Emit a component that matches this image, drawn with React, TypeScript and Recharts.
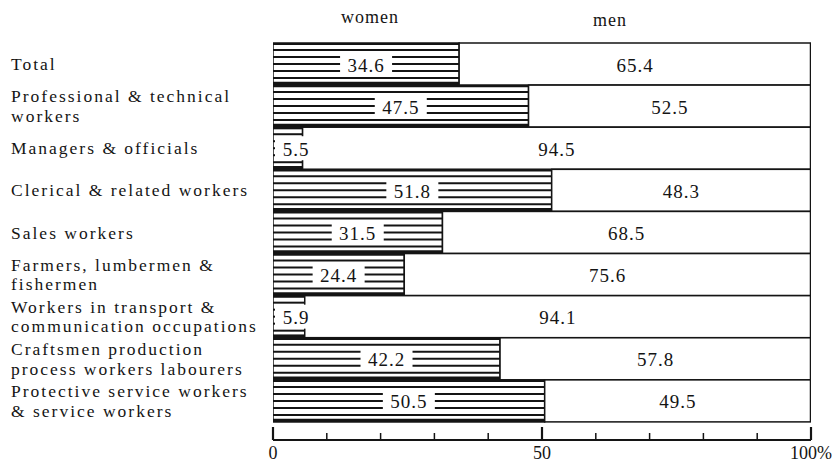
import { BarChart, Bar, XAxis, YAxis, LabelList } from 'recharts';

const categories = [
  'Total',
  'Professional & technical\nworkers',
  'Managers & officials',
  'Clerical & related workers',
  'Sales workers',
  'Farmers, lumbermen &\nfishermen',
  'Workers in transport &\ncommunication occupations',
  'Craftsmen production\nprocess workers labourers',
  'Protective service workers\n& service workers',
];
const women = [34.6, 47.5, 5.5, 51.8, 31.5, 24.4, 5.9, 42.2, 50.5];
const men = [65.4, 52.5, 94.5, 48.3, 68.5, 75.6, 94.1, 57.8, 49.5];
const xTicks = [0, 10, 20, 30, 40, 50, 60, 70, 80, 90, 100];
const xTickLabels: Record<number, string> = { 0: '0', 50: '50', 100: '100%' };

const data = categories.map((name, i) => ({ name, women: women[i], men: men[i] }));

const FONT = "'Liberation Serif', 'DejaVu Serif', 'Times New Roman', serif";
const INK = '#141414';

const WomenShape = (props: any) => {
  const { x, y, width, height } = props;
  if (!width || width <= 0) return null;
  const lines = [1, 2, 3, 4, 5].map(k => y + (height * k) / 6);
  return (
    <g>
      <rect x={x} y={y} width={width} height={height} fill="#fff" />
      {lines.map((ly, i) => (
        <line key={i} x1={x} x2={x + width} y1={ly} y2={ly} stroke={INK} strokeWidth={2} />
      ))}
      <rect x={x} y={y} width={width} height={height} fill="none" stroke={INK} strokeWidth={1.5} />
      <line x1={x} x2={x + width} y1={y + 1} y2={y + 1} stroke={INK} strokeWidth={2.2} />
      <line x1={x} x2={x + width} y1={y + height - 1.5} y2={y + height - 1.5} stroke={INK} strokeWidth={3.5} />
    </g>
  );
};

const MenShape = (props: any) => {
  const { x, y, width, height } = props;
  if (!width || width <= 0) return null;
  return (
    <g>
      <rect x={x} y={y} width={width} height={height} fill="#fff" stroke={INK} strokeWidth={1.5} />
      <line x1={x + width} x2={x + width} y1={y} y2={y + height} stroke={INK} strokeWidth={2.5} />
    </g>
  );
};

const WomenLabel = (props: any) => {
  const { x, y, width, height, value } = props;
  const text = String(value);
  const w = text.length * 10 + 12;
  const cy = y + height / 2;
  const left = Math.max(x + width / 2 - w / 2, x + 2);
  return (
    <g>
      <rect x={left} y={cy - 12} width={w} height={24} fill="#fff" />
      <text x={left + w / 2} y={cy + 1} textAnchor="middle" dominantBaseline="central"
        fontFamily={FONT} fontSize={19} letterSpacing={1} fill={INK}>
        {text}
      </text>
    </g>
  );
};

const MenLabel = (props: any) => {
  const { x, y, width, height, value } = props;
  return (
    <text x={x + width / 2} y={y + height / 2 + 1} textAnchor="middle" dominantBaseline="central"
      fontFamily={FONT} fontSize={19} letterSpacing={1} fill={INK}>
      {String(value)}
    </text>
  );
};

const CategoryTick = (props: any) => {
  const { y, payload } = props;
  const lines = String(payload.value).split('\n');
  const lh = 19.5;
  const start = y - ((lines.length - 1) * lh) / 2;
  return (
    <text x={11} y={start} fontFamily={FONT} fontSize={17.5} letterSpacing={2} fill={INK}>
      {lines.map((l, i) => (
        <tspan key={i} x={11} y={start + i * lh} dominantBaseline="central">{l}</tspan>
      ))}
    </text>
  );
};

const AxisTick = (props: any) => {
  const { x, y, payload } = props;
  const label = xTickLabels[payload.value];
  const major = label !== undefined;
  return (
    <g>
      <line x1={x} x2={x} y1={y} y2={y - (major ? 13 : 7)} stroke={INK} strokeWidth={major ? 2.2 : 1.5} />
      {major && (
        <text x={x} y={y + 19} textAnchor="middle" fontFamily={FONT} fontSize={18} fill={INK}>{label}</text>
      )}
    </g>
  );
};

export default function App() {
  return (
    <div style={{ position: 'absolute', left: 0, top: 0, width: 833, height: 467, background: '#fff' }}>
      <div style={{ position: 'absolute', left: 320, top: 7, width: 100, textAlign: 'center', fontFamily: FONT, fontSize: 18, letterSpacing: 1, color: INK }}>
        women
      </div>
      <div style={{ position: 'absolute', left: 560, top: 10, width: 100, textAlign: 'center', fontFamily: FONT, fontSize: 18, letterSpacing: 1, color: INK }}>
        men
      </div>
      <BarChart
        width={833}
        height={467}
        data={data}
        layout="vertical"
        barCategoryGap={0}
        margin={{ top: 43, right: 22, bottom: 0, left: 0 }}
      >
        <XAxis
          type="number"
          domain={[0, 100]}
          allowDataOverflow
          ticks={xTicks}
          interval={0}
          height={27}
          tickSize={0}
          tickMargin={0}
          tickLine={false}
          axisLine={{ stroke: INK, strokeWidth: 2 }}
          tick={<AxisTick />}
        />
        <YAxis
          type="category"
          dataKey="name"
          width={273}
          padding={{ top: 0, bottom: 18 }}
          axisLine={false}
          tickLine={false}
          interval={0}
          tick={<CategoryTick />}
        />
        <Bar dataKey="women" stackId="a" shape={<WomenShape />} isAnimationActive={false}>
          <LabelList dataKey="women" content={<WomenLabel />} />
        </Bar>
        <Bar dataKey="men" stackId="a" shape={<MenShape />} isAnimationActive={false}>
          <LabelList dataKey="men" content={<MenLabel />} />
        </Bar>
      </BarChart>
    </div>
  );
}
